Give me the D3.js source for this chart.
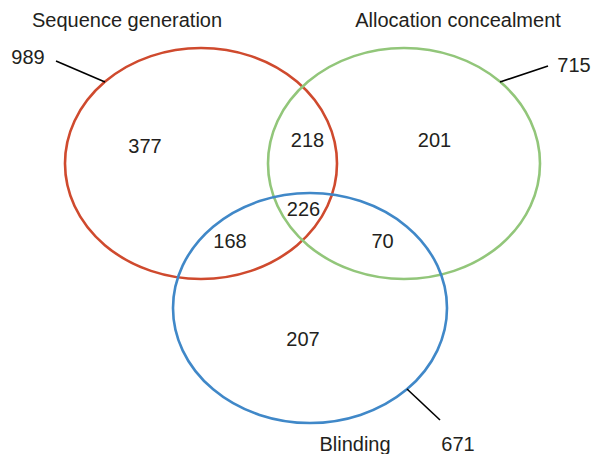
<!DOCTYPE html>
<html>
<head>
<meta charset="utf-8">
<script src="https://cdn.jsdelivr.net/npm/d3@7"></script>
<style>
  html, body { margin: 0; padding: 0; background: #fff; }
  svg { display: block; }
  text { font-family: "Liberation Sans", Arial, sans-serif; fill: #231f20; }
</style>
</head>
<body>
<div id="chart"></div>
<script>
// ---- data ----
const setNames = ["Sequence generation", "Allocation concealment", "Blinding"];
const setTotals = [989, 715, 671];
const regionKeys = ["S", "A", "B", "SA", "SB", "AB", "SAB"];
const regionValues = [377, 201, 207, 218, 168, 70, 226];

// ---- layout (positions/styles kept separate from data) ----
const W = 593, H = 454;
const x = d3.scaleLinear().domain([0, 1]).range([0, W]);
const y = d3.scaleLinear().domain([0, 1]).range([0, H]);
const colors = ["#cf4a2e", "#92c67a", "#4088c8"];
const ellipses = [
  { cx: 201 / W, cy: 163.5 / H, rx: 136 / W, ry: 115.5 / H },
  { cx: 404 / W, cy: 163.5 / H, rx: 136 / W, ry: 115.5 / H },
  { cx: 310 / W, cy: 308 / H, rx: 137 / W, ry: 115 / H }
];
const nameLayout = [
  { x: 127 / W, y: 27 / H, anchor: "middle" },
  { x: 458 / W, y: 27 / H, anchor: "middle" },
  { x: 355 / W, y: 451 / H, anchor: "middle" }
];
const totalLayout = [
  { x: 28 / W, y: 64 / H, lx1: 56 / W, ly1: 61 / H, lx2: 105 / W, ly2: 82 / H },
  { x: 574 / W, y: 72 / H, lx1: 548 / W, ly1: 66 / H, lx2: 500 / W, ly2: 82 / H },
  { x: 458 / W, y: 451 / H, lx1: 407 / W, ly1: 389 / H, lx2: 440 / W, ly2: 420 / H }
];
const regionLayout = {
  S: [145 / W, 153 / H], A: [434.5 / W, 147 / H], B: [303 / W, 346 / H],
  SA: [307.5 / W, 147 / H], SB: [230 / W, 248 / H], AB: [382.5 / W, 248 / H],
  SAB: [303.5 / W, 216 / H]
};

const svg = d3.select("#chart").append("svg").attr("width", W).attr("height", H);

svg.selectAll("ellipse.set")
  .data(ellipses)
  .join("ellipse")
  .attr("class", "set")
  .attr("cx", d => x(d.cx))
  .attr("cy", d => y(d.cy))
  .attr("rx", d => x(d.rx))
  .attr("ry", d => y(d.ry))
  .attr("fill", "none")
  .attr("stroke", (d, i) => colors[i])
  .attr("stroke-width", 2.6);

// leader lines
svg.selectAll("line.leader")
  .data(totalLayout)
  .join("line")
  .attr("class", "leader")
  .attr("x1", d => x(d.lx1)).attr("y1", d => y(d.ly1))
  .attr("x2", d => x(d.lx2)).attr("y2", d => y(d.ly2))
  .attr("stroke", "#000")
  .attr("stroke-width", 1.6);

// totals
svg.selectAll("text.total")
  .data(setTotals)
  .join("text")
  .attr("class", "total")
  .attr("x", (d, i) => x(totalLayout[i].x))
  .attr("y", (d, i) => y(totalLayout[i].y))
  .attr("text-anchor", "middle")
  .attr("font-size", 20)
  .text(d => d);

// set names
svg.selectAll("text.name")
  .data(setNames)
  .join("text")
  .attr("class", "name")
  .attr("x", (d, i) => x(nameLayout[i].x))
  .attr("y", (d, i) => y(nameLayout[i].y))
  .attr("text-anchor", (d, i) => nameLayout[i].anchor)
  .attr("font-size", 20)
  .text(d => d);

// region counts
svg.selectAll("text.region")
  .data(regionKeys.map((k, i) => ({ k, v: regionValues[i] })))
  .join("text")
  .attr("class", "region")
  .attr("x", d => x(regionLayout[d.k][0]))
  .attr("y", d => y(regionLayout[d.k][1]))
  .attr("text-anchor", "middle")
  .attr("font-size", 20)
  .text(d => d.v);
</script>
</body>
</html>
